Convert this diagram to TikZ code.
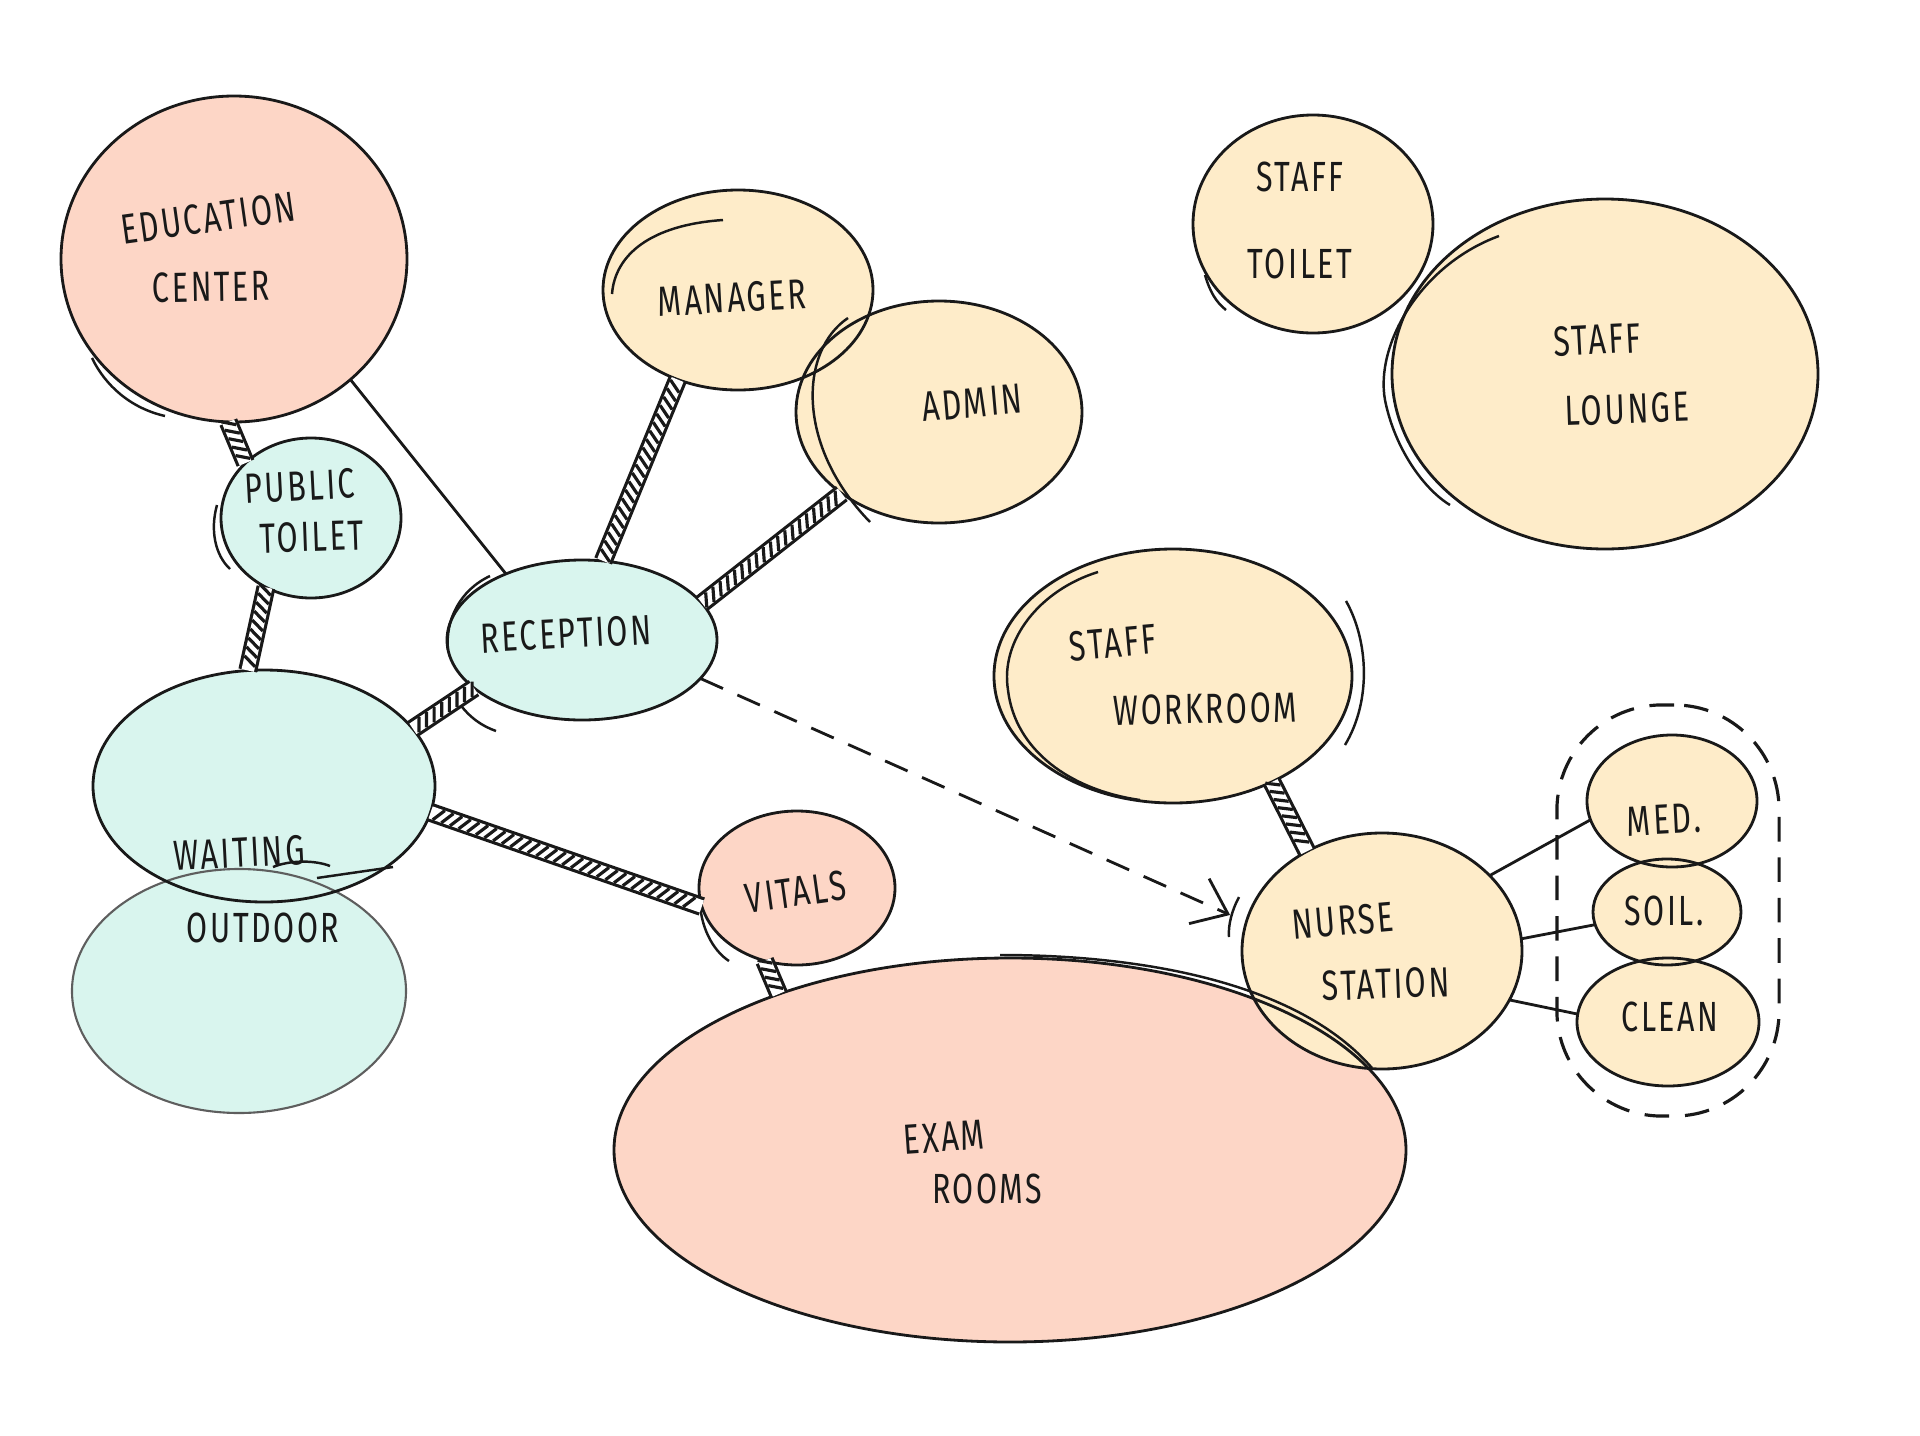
\documentclass[tikz,border=0pt]{standalone}
\usepackage{fontspec}
\newfontfamily\hand[FakeStretch=0.72,LetterSpace=6]{Fira Sans}
\usetikzlibrary{shapes.geometric,decorations.markings,arrows.meta,fit}
\definecolor{salmon}{RGB}{253,214,198}
\definecolor{sand}{RGB}{254,236,201}
\definecolor{mint}{RGB}{217,245,238}
\definecolor{ink}{RGB}{25,25,25}
\newcommand\bubfill[5]{\node[bubble, fill=#5, minimum width={#3*0.02cm}, minimum height={#4*0.02cm}] (#1) at (#2) {};}
\newcommand\bubline[4][outline]{\draw[#1] (#2.center) ellipse [x radius=#3, y radius=#4];}
\begin{document}
\begin{tikzpicture}[x=0.01cm,y=-0.01cm,
  bubble/.style={ellipse, inner sep=0pt, outer sep=0pt, draw=none},
  outline/.style={draw=ink, line width=0.8pt},
  faint/.style={draw=ink!70, line width=0.6pt},
  sketch/.style={draw=ink, line width=0.7pt},
  lbl/.style={font=\hand\fontsize{12}{14}\selectfont, text=ink, inner sep=0pt},
  thinlink/.style={draw=ink, line width=0.8pt},
  dashlink/.style={draw=ink, line width=0.8pt, dash pattern=on 7pt off 4.5pt, -{Straight Barb[length=9pt,width=14pt,line width=0.8pt]}},
  grpbox/.style={draw=ink, line width=0.9pt, dash pattern=on 7pt off 4.5pt, rounded corners=1.05cm, inner xsep=0.2cm, inner ysep=0.3cm},
  hatchlink/.style={draw=ink, line width=5.4pt,
    postaction={draw=white, line width=3.6pt},
    postaction={decorate, decoration={markings,
      mark=between positions 0.03 and 0.97 step 2.6pt with {\draw[ink, line width=0.9pt] (-1.2pt,-1.8pt) -- (1.2pt,1.8pt);}}}}
]
\useasboundingbox (0,0) rectangle (1920,1436);

% fills
\bubfill{edu}{234,259}{173}{163}{salmon}
\bubfill{ptoi}{311,518}{90}{80}{mint}
\bubfill{outd}{239,991}{167}{122}{mint}
\bubfill{wait}{264,786}{171}{116}{mint}
\bubfill{rec}{582,640}{135}{80}{mint}
\bubfill{man}{738,290}{135}{100}{sand}
\bubfill{adm}{939,412}{143}{111}{sand}
\bubfill{stoi}{1313,224}{120}{109}{sand}
\bubfill{slou}{1605,374}{213}{175}{sand}
\bubfill{swork}{1173,676}{179}{127}{sand}
\bubfill{vit}{797,888}{98}{77}{salmon}
\bubfill{exam}{1010,1150}{396}{192}{salmon}
\bubfill{nurse}{1382,951}{140}{118}{sand}
\bubfill{med}{1672,801}{85}{66}{sand}
\bubfill{soil}{1667,912}{74}{53}{sand}
\bubfill{clean}{1668,1022}{91}{64}{sand}

% outlines
\bubline{edu}{173}{163}
\bubline{ptoi}{90}{80}
\bubline[faint]{outd}{167}{122}
\bubline{wait}{171}{116}
\bubline{rec}{135}{80}
\bubline{man}{135}{100}
\bubline{adm}{143}{111}
\bubline{stoi}{120}{109}
\bubline{slou}{213}{175}
\bubline{swork}{179}{127}
\bubline{vit}{98}{77}
\bubline{exam}{396}{192}
\bubline{nurse}{140}{118}
\bubline{med}{85}{66}
\bubline{soil}{74}{53}
\bubline{clean}{91}{64}

% sketchy second strokes
\draw[sketch] (92,358) .. controls (105,385) and (130,408) .. (165,416);
\draw[sketch] (217,505) .. controls (210,530) and (215,555) .. (230,569);
\draw[sketch] (612,294) .. controls (615,255) and (650,225) .. (723,220);
\draw[sketch] (848,318) .. controls (800,350) and (795,445) .. (870,522);
\draw[sketch] (490,576) .. controls (460,590) and (445,620) .. (448,650);
\draw[sketch] (459,703) .. controls (470,718) and (482,726) .. (496,731);
\draw[sketch] (1205,275) .. controls (1210,292) and (1216,302) .. (1226,310);
\draw[sketch] (1499,236) .. controls (1420,265) and (1375,345) .. (1385,400) .. controls (1395,450) and (1425,490) .. (1450,505);
\draw[sketch] (1098,572) .. controls (1040,590) and (1000,640) .. (1008,690) .. controls (1015,750) and (1070,790) .. (1140,800);
\draw[sketch] (1346,601) .. controls (1368,640) and (1372,700) .. (1345,745);
\draw[sketch] (700,900) .. controls (700,925) and (712,950) .. (729,961);
\draw[sketch] (317,878) -- (393,867);
\draw[sketch] (273,867) .. controls (290,860) and (315,860) .. (330,866);
\draw[sketch] (1000,955) .. controls (1150,955) and (1300,985) .. (1372,1068);
\draw[sketch] (1239,897) .. controls (1232,910) and (1228,925) .. (1229,937);

% group of support rooms
\node[grpbox, fit=(med)(soil)(clean)] (grp) {};

% connectors
\draw[thinlink] (edu.-46) -- (rec.139);
\draw[hatchlink] (edu.-92) -- (ptoi.140);
\draw[hatchlink] (ptoi.-123) -- (wait.98);
\draw[hatchlink] (rec.-156) -- (wait.21);
\draw[hatchlink] (rec.75) -- (man.-124);
\draw[hatchlink] (rec.17) -- (adm.-140);
\draw[hatchlink] (wait.-9) -- (vit.191);
\draw[hatchlink] (vit.-114) -- (exam.146);
\draw[hatchlink] (swork.-47) -- (nurse.127);
\draw[thinlink] (nurse.35) -- (med.-167);
\draw[thinlink] (nurse.5) -- (soil.-170);
\draw[thinlink] (nurse.-21) -- (clean.175);
\draw[dashlink, shorten >=5pt] (rec.-18) -- (nurse.168);

% labels
\node[lbl, rotate=8] (eduA) at (208,218) {EDUCATION};
\node[lbl, rotate=1] (eduB) at (211,287) {CENTER};
\node[lbl, rotate=3] (ptoiA) at (300,486) {PUBLIC};
\node[lbl, rotate=2] (ptoiB) at (312,537) {TOILET};
\node[lbl, rotate=3] (manA) at (732,298) {MANAGER};
\node[lbl, rotate=5] (admA) at (972,403) {ADMIN};
\node[lbl, rotate=3] (recA) at (566,634) {RECEPTION};
\node[lbl] (stoiA) at (1300,177) {STAFF};
\node[lbl] (stoiB) at (1300,264) {TOILET};
\node[lbl, rotate=3] (slouA) at (1597,340) {STAFF};
\node[lbl, rotate=2] (slouB) at (1627,409) {LOUNGE};
\node[lbl, rotate=5] (sworkA) at (1113,643) {STAFF};
\node[lbl, rotate=1] (sworkB) at (1205,709) {WORKROOM};
\node[lbl, rotate=3] (waitA) at (239,853) {WAITING};
\node[lbl] (outdA) at (263,928) {OUTDOOR};
\node[lbl, rotate=8] (vitA) at (796,892) {VITALS};
\node[lbl, rotate=4] (examA) at (944,1137) {EXAM};
\node[lbl] (examB) at (987,1189) {ROOMS};
\node[lbl, rotate=5] (nurseA) at (1343,921) {NURSE};
\node[lbl, rotate=2] (nurseB) at (1386,984) {STATION};
\node[lbl, rotate=3] (medA) at (1664,820) {MED.};
\node[lbl] (soilA) at (1664,911) {SOIL.};
\node[lbl] (cleanA) at (1670,1017) {CLEAN};
\end{tikzpicture}
\end{document}
